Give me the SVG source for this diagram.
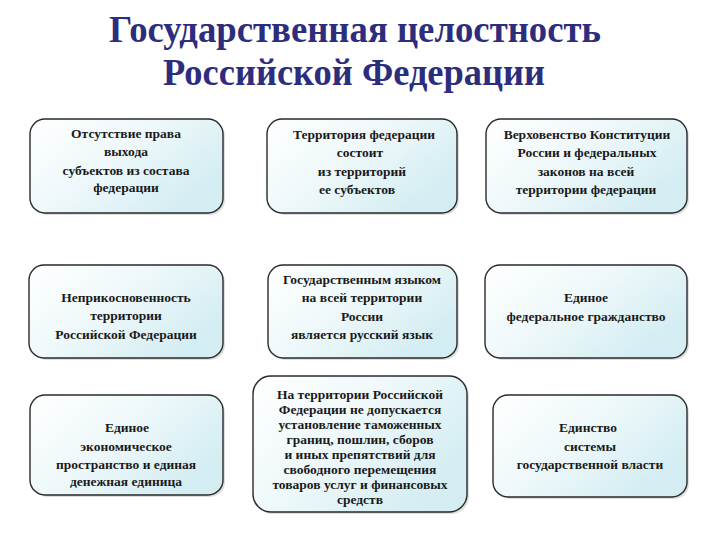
<svg xmlns="http://www.w3.org/2000/svg" width="720" height="540" viewBox="0 0 720 540">
<defs>
<linearGradient id="g" x1="0" y1="0" x2="1" y2="0.6">
<stop offset="0" stop-color="#ffffff"/>
<stop offset="0.5" stop-color="#eef8fa"/>
<stop offset="1" stop-color="#d3edf2"/>
</linearGradient>
</defs>
<style>
.box{fill:url(#g);stroke:#2a2a2a;stroke-width:1.4}
.sh{fill:#c8c8c8;opacity:0.6}
.t{font-family:"Liberation Serif","DejaVu Serif",serif;font-weight:bold;font-size:13.5px;fill:#1a1a1a;text-anchor:middle}
.title{font-family:"Liberation Serif","DejaVu Serif",serif;font-weight:bold;font-size:37px;fill:#2d2d7d;text-anchor:middle}
</style>
<rect width="720" height="540" fill="#ffffff"/>
<g id="title">
<text class="title" x="355" y="42" textLength="492" lengthAdjust="spacingAndGlyphs">Государственная целостность</text>
<text class="title" x="354" y="85" textLength="382" lengthAdjust="spacingAndGlyphs">Российской Федерации</text>
</g>
<g id="connectors"></g>
<g id="n1">
<rect class="sh" x="32" y="121" width="193" height="94" rx="15"/>
<rect class="box" x="30" y="119" width="193" height="94" rx="15"/>
<text class="t" x="126" y="138">Отсутствие права</text>
<text class="t" x="126" y="156">выхода</text>
<text class="t" x="126" y="175">субъектов из состава</text>
<text class="t" x="126" y="192">федерации</text>
</g>
<g id="n2">
<rect class="sh" x="269" y="121" width="190" height="94" rx="15"/>
<rect class="box" x="267" y="119" width="190" height="94" rx="15"/>
<text class="t" x="364" y="139">Территория федерации</text>
<text class="t" x="360" y="157">состоит</text>
<text class="t" x="362" y="176">из территорий</text>
<text class="t" x="357" y="194">ее субъектов</text>
</g>
<g id="n3">
<rect class="sh" x="488" y="121" width="201" height="94" rx="15"/>
<rect class="box" x="486" y="119" width="201" height="94" rx="15"/>
<text class="t" x="587" y="139">Верховенство Конституции</text>
<text class="t" x="587" y="157">России  и федеральных</text>
<text class="t" x="586" y="176">законов на всей</text>
<text class="t" x="586" y="194">территории федерации</text>
</g>
<g id="n4">
<rect class="sh" x="31" y="267" width="194" height="93" rx="15"/>
<rect class="box" x="29" y="265" width="194" height="93" rx="15"/>
<text class="t" x="126" y="302">Неприкосновенность</text>
<text class="t" x="126" y="320">территории</text>
<text class="t" x="126" y="339">Российской  Федерации</text>
</g>
<g id="n5">
<rect class="sh" x="270" y="267" width="189" height="93" rx="15"/>
<rect class="box" x="268" y="265" width="189" height="93" rx="15"/>
<text class="t" x="362" y="284">Государственным языком</text>
<text class="t" x="362" y="302">на  всей территории</text>
<text class="t" x="362" y="321">России</text>
<text class="t" x="362" y="339">является  русский язык</text>
</g>
<g id="n6">
<rect class="sh" x="487" y="267" width="202" height="93" rx="15"/>
<rect class="box" x="485" y="265" width="202" height="93" rx="15"/>
<text class="t" x="586" y="302">Единое</text>
<text class="t" x="586" y="321">федеральное гражданство</text>
</g>
<g id="n7">
<rect class="sh" x="32" y="397" width="193" height="100" rx="15"/>
<rect class="box" x="30" y="395" width="193" height="100" rx="15"/>
<text class="t" x="127" y="432">Единое</text>
<text class="t" x="126" y="451">экономическое</text>
<text class="t" x="126" y="469">пространство и единая</text>
<text class="t" x="126" y="486">денежная единица</text>
</g>
<g id="n8">
<rect class="sh" x="255" y="378" width="214" height="136" rx="18"/>
<rect class="box" x="253" y="376" width="214" height="136" rx="18"/>
<text class="t" x="360" y="399">На территории Российской</text>
<text class="t" x="360" y="414">Федерации не допускается</text>
<text class="t" x="360" y="429">установление таможенных</text>
<text class="t" x="360" y="444">границ, пошлин, сборов</text>
<text class="t" x="360" y="459">и иных препятствий для</text>
<text class="t" x="360" y="474">свободного  перемещения</text>
<text class="t" x="360" y="489">товаров услуг и финансовых</text>
<text class="t" x="360" y="504">средств</text>
</g>
<g id="n9">
<rect class="sh" x="495" y="397" width="194" height="102" rx="15"/>
<rect class="box" x="493" y="395" width="194" height="102" rx="15"/>
<text class="t" x="588" y="432">Единство</text>
<text class="t" x="590" y="451">системы</text>
<text class="t" x="590" y="469">государственной  власти</text>
</g>
</svg>
